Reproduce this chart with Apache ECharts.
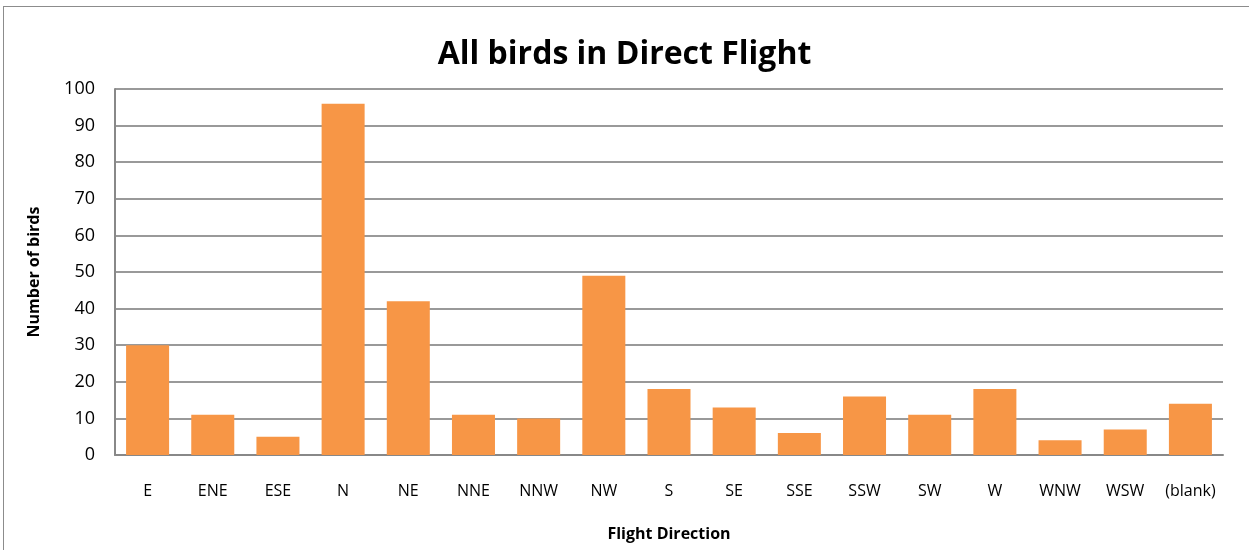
<!DOCTYPE html>
<html><head><meta charset="utf-8">
<script src="https://cdn.jsdelivr.net/npm/echarts@6/dist/echarts.min.js"></script>
<style>html,body{margin:0;padding:0;background:#fff}#c{width:1249px;height:550px}
#frame{position:absolute;left:3px;top:6px;width:1260px;height:560px;border:1px solid #8c8c8c;pointer-events:none}</style>
</head><body><div id="c"></div><div id="frame"></div>
<script>
const categories = ['E','ENE','ESE','N','NE','NNE','NNW','NW','S','SE','SSE','SSW','SW','W','WNW','WSW','(blank)'];
const birds = [30,11,5,96,42,11,10,49,18,13,6,16,11,18,4,7,14];
const yTicks = [0,10,20,30,40,50,60,70,80,90,100];
const FONT = '"Liberation Sans Narrow","Open Sans",sans-serif';
const chart = echarts.init(document.getElementById('c'));
chart.setOption({
  animation:false,
  title:{text:'All birds in Direct Flight',left:'center',top:34,
    textStyle:{fontFamily:FONT,fontSize:32,fontWeight:'bold',color:'#000'}},
  grid:{left:115,right:26,top:89,bottom:95,containLabel:false},
  xAxis:{type:'category',data:categories,
    name:'Flight Direction',nameLocation:'middle',nameGap:71,
    nameTextStyle:{fontFamily:FONT,fontSize:16,fontWeight:'bold',color:'#000'},
    axisLine:{lineStyle:{color:'#888',width:2}},axisTick:{show:false},
    axisLabel:{fontFamily:FONT,fontSize:16,color:'#000',margin:28,interval:0}},
  yAxis:{type:'value',min:yTicks[0],max:yTicks[yTicks.length-1],interval:10,
    name:'Number of birds',nameLocation:'middle',nameGap:73,nameRotate:90,
    nameTextStyle:{fontFamily:FONT,fontSize:16,fontWeight:'bold',color:'#000'},
    axisLine:{show:true,lineStyle:{color:'#888',width:2}},axisTick:{show:false},
    axisLabel:{fontFamily:FONT,fontSize:18,color:'#000',margin:20},
    splitLine:{lineStyle:{color:'#999',width:2}}},
  series:[{type:'bar',data:birds,barCategoryGap:'34%',itemStyle:{color:'#F79646'}}]
});
</script></body></html>
